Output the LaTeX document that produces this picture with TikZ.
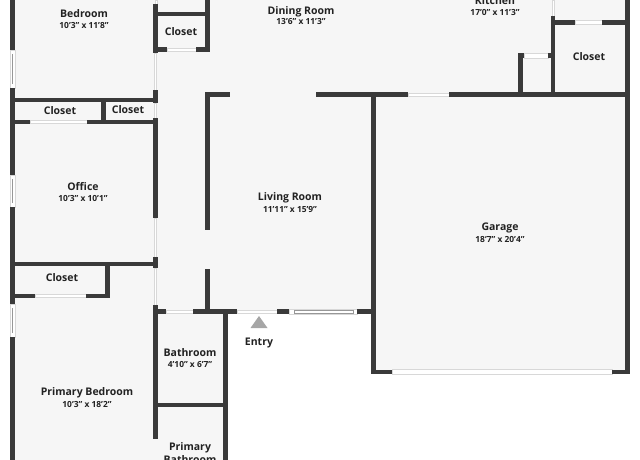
\documentclass[tikz,border=0pt]{standalone}
\usepackage{fontspec}
\setmainfont{Open Sans}
\usepackage{xcolor}
\usetikzlibrary{positioning}
\definecolor{floorgray}{HTML}{F6F6F6}
\definecolor{wallgray}{HTML}{3A3A3A}
\definecolor{textdark}{HTML}{222222}
\definecolor{edgegray}{HTML}{D8D8D8}
\tikzset{
    wall/.style={fill=wallgray, draw=none},
    gapdoor/.style={fill=white, draw=edgegray, line width=0.5pt},
    roomname/.style={font=\fontsize{10.5}{12}\selectfont\bfseries, text=textdark, inner sep=0pt, align=center},
    roomsize/.style={font=\fontsize{8.4}{10}\selectfont\bfseries, text=textdark, inner sep=0pt}
}
\begin{document}
\begin{tikzpicture}[x=1pt, y=-1pt]
    \useasboundingbox (0,0) rectangle (640,460);
    \clip (0,0) rectangle (640,460);
    \fill[floorgray] (12,0) -- (628,0) -- (628,372) -- (372,372) -- (372,312) -- (225,312) -- (225,460) -- (12,460) -- cycle;
    \foreach \xa/\ya/\xb/\yb in {155/0/157/4, 154/53/156.5/90, 154/103/156.5/118, 154/218/156.5/257, 154/268/156.5/305, 552/0/554/16}
        \filldraw[gapdoor] (\xa,\ya) rectangle (\xb,\yb);
    \foreach \xa/\ya/\xb/\yb in {30/120.5/87/123.5, 35/294/86/297.5, 167/48/196/51, 166/310/193/313.5, 237/310/277/313.5, 408/93/449/96.5, 392/369.5/612/374, 524/53/548/58, 575/20.5/602/24.5}
        \filldraw[gapdoor] (\xa,\ya) rectangle (\xb,\yb);
    \foreach \ya/\yb in {50/88, 175/207, 304/337}
        {
        \filldraw[gapdoor] (10,\ya) rectangle (15,\yb);
        \draw[edgegray!70!black, line width=0.5pt] (12.5,\ya+4) -- (12.5,\yb-4);
        }
    \filldraw[gapdoor] (289,309.5) rectangle (357,314);
    \draw[edgegray!70!black, line width=0.8pt] (294,310.5) rectangle (353,313);
    \foreach \xa/\ya/\xb/\yb in {
        10/0/15/50, 10/88/15/175, 10/207/15/304, 10/337/15/460,
        15/98/157/102, 101/100/106/122, 15/120/30/124, 87/120/157/124,
        153/4/157.5/53, 153/90/157.5/103, 153/118/157.5/218, 153/257/157.5/268, 153/305/157.5/439,
        15/262/157/266, 105/264/110/297.5, 15/294/35/298, 86/294/110/298,
        157/12/209/16, 205/0/210/52, 157/47/167/52, 196/47/210/52,
        205/92/210/230, 205/92/230/97, 205/269/210/312,
        153/309/166/314, 193/309/237/314, 277/309/289/314, 357/309/375/314,
        223/309/227.5/460, 157/403/227/407,
        316/92/408/97, 449/92/629/97, 371/92/375.5/374,
        625/0/629.5/374, 371/369.5/392/374, 612/369.5/630/374,
        518/53/523/95, 518/53/524/58, 548/53/552/58, 551/16/555/95,
        551/20/575/25, 602/20/627/25}
        \fill[wall] (\xa,\ya) rectangle (\xb,\yb);
    \fill[gray!70] (259,316) -- (267.5,328) -- (250.5,328) -- cycle;
    \node[roomname] (bedroom) at (84,13.5) {Bedroom};
    \node[roomsize] (bedroomsize) at (84,25) {10'3" x 11'8"};
    \node[roomname] (dining) at (301,11.5) {Dining Room};
    \node[roomsize] (diningsize) at (301,22) {13'6" x 11'3"};
    \node[roomname] (kitchen) at (495,1) {Kitchen};
    \node[roomsize] (kitchensize) at (495,12.5) {17'0" x 11'3"};
    \node[roomname] (closeta) at (181,31.5) {Closet};
    \node[roomname] (closetb) at (60,111) {Closet};
    \node[roomname] (closetc) at (128,110) {Closet};
    \node[roomname] (closetd) at (589,56.5) {Closet};
    \node[roomname] (closete) at (62,277.5) {Closet};
    \node[roomname] (office) at (83,186.5) {Office};
    \node[roomsize] (officesize) at (83,198.5) {10'3" x 10'1"};
    \node[roomname] (living) at (290,197.5) {Living Room};
    \node[roomsize] (livingsize) at (290,209.5) {11'11" x 15'9"};
    \node[roomname] (garage) at (500,227.5) {Garage};
    \node[roomsize] (garagesize) at (500,239.5) {18'7" x 20'4"};
    \node[roomname] (bath) at (190,352.5) {Bathroom};
    \node[roomsize] (bathsize) at (190,364.5) {4'10" x 6'7"};
    \node[roomname] (primary) at (87,392.5) {Primary Bedroom};
    \node[roomsize] (primarysize) at (87,404) {10'3" x 18'2"};
    \node[roomname] (primarybath) at (190,453) {Primary\\[1.5pt]Bathroom};
    \node[roomname] (entry) at (259,343) {Entry};
\end{tikzpicture}
\end{document}
